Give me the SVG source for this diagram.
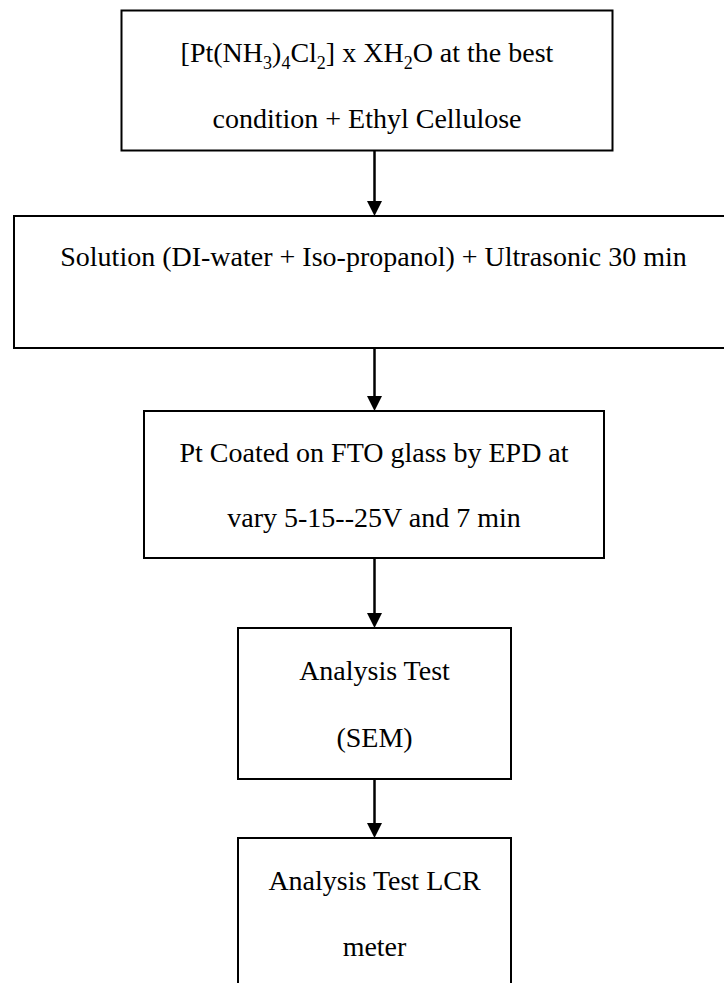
<svg xmlns="http://www.w3.org/2000/svg" width="724" height="983" viewBox="0 0 724 983">
<style>
.box{fill:#fff;stroke:#000;stroke-width:2}
.t{font-family:"Liberation Serif","Times New Roman",serif;font-size:28px;fill:#000;text-anchor:middle}
.sub{font-size:18px}
.conn{stroke:#000;stroke-width:2.5;fill:none}
</style>
<defs>
<marker id="arr" markerUnits="userSpaceOnUse" markerWidth="16" markerHeight="16" refX="9" refY="7.5" orient="auto">
<path d="M0,0 L15,7.5 L0,15 Z" fill="#000"/>
</marker>
</defs>
<rect width="724" height="983" fill="#fff"/>
<g id="connectors">
<line class="conn" x1="374.5" y1="150.5" x2="374.5" y2="210" marker-end="url(#arr)"/>
<line class="conn" x1="374.5" y1="348" x2="374.5" y2="405" marker-end="url(#arr)"/>
<line class="conn" x1="374.5" y1="558" x2="374.5" y2="622" marker-end="url(#arr)"/>
<line class="conn" x1="374.5" y1="779" x2="374.5" y2="832" marker-end="url(#arr)"/>
</g>
<g id="node1">
<rect class="box" x="121.5" y="10.5" width="491" height="140"/>
<text class="t" x="367" y="61.7">[Pt(NH<tspan class="sub" dy="7">3</tspan><tspan dy="-7">)</tspan><tspan class="sub" dy="7">4</tspan><tspan dy="-7">Cl</tspan><tspan class="sub" dy="7">2</tspan><tspan dy="-7">] x XH</tspan><tspan class="sub" dy="7">2</tspan><tspan dy="-7">O at the best</tspan></text>
<text class="t" x="367" y="128">condition + Ethyl Cellulose</text>
</g>
<g id="node2">
<rect class="box" x="14" y="216" width="716" height="132"/>
<text class="t" x="373.5" y="266">Solution (DI-water + Iso-propanol) + Ultrasonic 30 min</text>
</g>
<g id="node3">
<rect class="box" x="144" y="411" width="460" height="147"/>
<text class="t" x="374" y="461.7">Pt Coated on FTO glass by EPD at</text>
<text class="t" x="374" y="527">vary 5-15--25V and 7 min</text>
</g>
<g id="node4">
<rect class="box" x="238" y="628" width="273" height="151"/>
<text class="t" x="374.5" y="680">Analysis Test</text>
<text class="t" x="374.5" y="746.7">(SEM)</text>
</g>
<g id="node5">
<rect class="box" x="238" y="838" width="273" height="160"/>
<text class="t" x="374.5" y="890">Analysis Test LCR</text>
<text class="t" x="374.5" y="956">meter</text>
</g>
</svg>
